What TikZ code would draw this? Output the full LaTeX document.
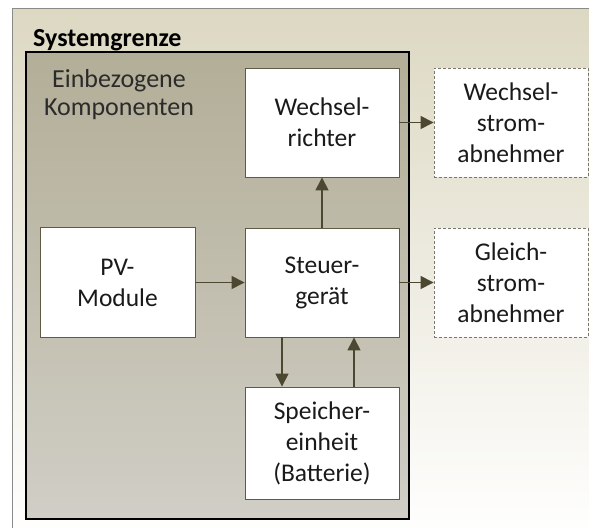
\documentclass[tikz,border=0pt]{standalone}
\usepackage{fontspec}
\setmainfont{Carlito}
\usetikzlibrary{arrows.meta}
\definecolor{outtop}{HTML}{DCD8C2}
\definecolor{outbot}{HTML}{FFFFFF}
\definecolor{intop}{HTML}{B3AE97}
\definecolor{inbot}{HTML}{D0CEC6}
\definecolor{boxline}{HTML}{5E5A44}
\definecolor{arrcol}{HTML}{4B4731}
\definecolor{txt}{HTML}{1A1A1A}
\definecolor{labtxt}{HTML}{2B2B2B}
\definecolor{framecol}{HTML}{8A8A8A}
\definecolor{dashcol}{HTML}{7A776A}
\begin{document}
\begin{tikzpicture}[x=1bp,y=-1bp,
  every node/.style={font=\fontsize{25.5bp}{31bp}\selectfont, text=txt},
  compbox/.style={draw=boxline, line width=0.9bp, fill=white, minimum width=154bp, minimum height=109bp, align=center, inner sep=0pt},
  extbox/.style={draw=dashcol, line width=0.9bp, dash pattern=on 3bp off 2bp, fill=white, minimum width=154bp, minimum height=109bp, align=center, inner sep=0pt},
  arr/.style={draw=arrcol, line width=1.4bp, -{Triangle[length=13bp,width=13bp]}, fill=arrcol}]
\useasboundingbox (0,0) rectangle (589,528);
\begin{scope}
\clip (0,0) rectangle (589,528);
\shade[top color=outtop, bottom color=outbot] (12,9) rectangle (600,540);
\draw[framecol, line width=1bp] (12,540) -- (12,9) -- (600,9);
\end{scope}
\shade[top color=intop, bottom color=inbot] (26,52) rectangle (409,519);
\draw[black, line width=2.4bp] (26,52) rectangle (409,519);
\node[anchor=base west, inner sep=0pt, font=\fontsize{26bp}{31bp}\selectfont\bfseries, text=black] (sg) at (33,47) {Systemgrenze};
\node[align=center, inner sep=0pt, text=labtxt, font=\fontsize{26bp}{28bp}\selectfont] (ek) at (119,95) {Einbezogene\\Komponenten};
\node[compbox] (wr) at (322,122.5) {Wechsel-\\richter};
\node[compbox] (st) at (322,282.5) {Steuer-\\gerät};
\node[compbox, minimum width=155bp, minimum height=110bp] (pv) at (117.5,282.5) {PV-\\Module};
\node[compbox, minimum height=112bp] (sp) at (322,443) {Speicher-\\einheit\\(Batterie)};
\node[extbox] (wa) at (511,122.5) {Wechsel-\\strom-\\abnehmer};
\node[extbox] (ga) at (511,282.5) {Gleich-\\strom-\\abnehmer};
\draw[arr] (pv.east) -- (st.west);
\draw[arr] (wr.east) -- (wa.west);
\draw[arr] (st.east) -- (ga.west);
\draw[arr] (st.north) -- (wr.south);
\draw[arr] (st.south -| 282,0) -- (sp.north -| 282,0);
\draw[arr] (sp.north -| 354,0) -- (st.south -| 354,0);
\end{tikzpicture}
\end{document}
